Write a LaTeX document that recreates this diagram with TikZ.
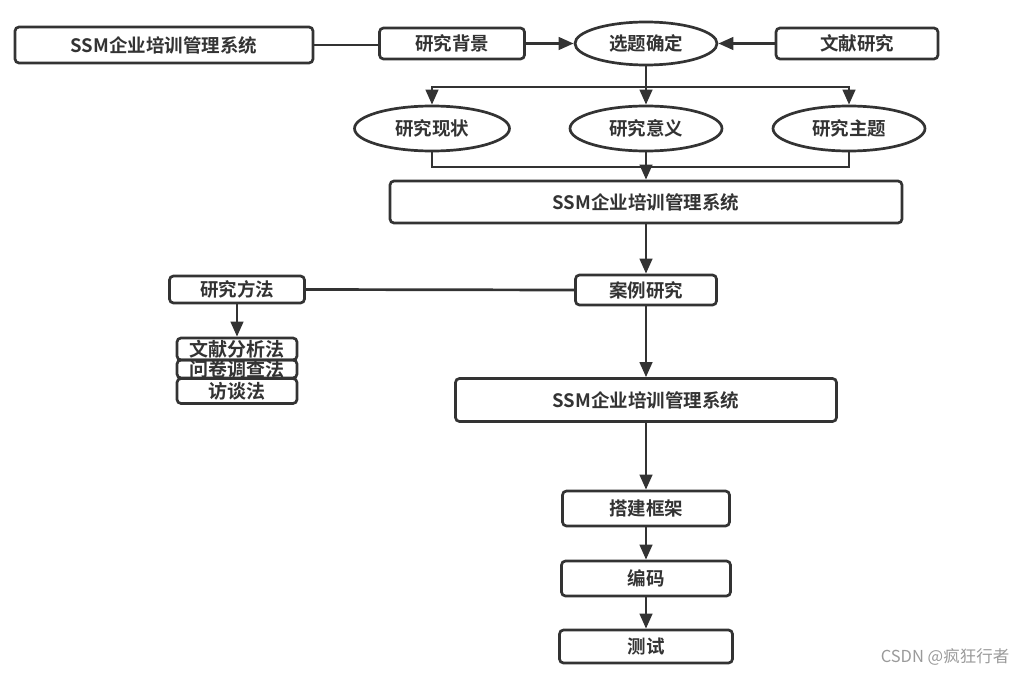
\documentclass[tikz,border=0pt]{standalone}
\usepackage{fontspec}
\setmainfont{Noto Sans CJK SC}[BoldFont={Noto Sans CJK SC Bold}]
\usetikzlibrary{shapes.geometric,arrows.meta}
\definecolor{ink}{HTML}{333333}
\definecolor{wm}{HTML}{9A9A9A}
\begin{document}
\begin{tikzpicture}[x=1pt,y=-1pt,
  every node/.style={font=\fontsize{18.5}{20}\selectfont\bfseries, text=ink},
  box/.style={draw=ink, line width=2.7pt, rounded corners=4pt, inner sep=0pt},
  ell/.style={ellipse, draw=ink, line width=2.7pt, inner sep=0pt},
  ln/.style={draw=ink, line width=2.7pt},
  arr/.style={ln, -{Triangle[length=15pt,width=12.5pt]}},
  stk/.style={box, font=\fontsize{19}{19}\selectfont\bfseries}
]
\useasboundingbox (0,0) rectangle (1029,677);
% top row
\node[box, minimum width=298pt, minimum height=36pt] (s1) at (164,45) {SSM企业培训管理系统};
\node[box, minimum width=145pt, minimum height=31pt] (bg) at (452,43.5) {研究背景};
\node[ell, minimum width=142pt, minimum height=43pt] (xt) at (646,43.5) {选题确定};
\node[box, minimum width=162pt, minimum height=31pt] (wx) at (857,43.5) {文献研究};
\draw[ln] (s1.east) -- (s1.east -| bg.west);
\draw[arr] (bg.east) -- (xt.west);
\draw[arr] (wx.west) -- (xt.east);
% ellipses row
\node[ell, minimum width=155pt, minimum height=45pt] (e1) at (432,128.5) {研究现状};
\node[ell, minimum width=152pt, minimum height=45pt] (e2) at (646,128.5) {研究意义};
\node[ell, minimum width=152pt, minimum height=45pt] (e3) at (849,128.5) {研究主题};
\coordinate (j1) at (646,87);
\draw[ln] (xt.south) -- (j1);
\draw[arr] (j1) -| (e1.north);
\draw[arr] (j1) -- (e2.north);
\draw[arr] (j1) -| (e3.north);
% second SSM
\node[box, minimum width=512pt, minimum height=42pt] (s2) at (646,202) {SSM企业培训管理系统};
\coordinate (j2) at (646,167);
\draw[ln] (e1.south) |- (j2);
\draw[ln] (e3.south) |- (j2);
\draw[arr] (e2.south) -- (s2.north);
% case study row
\node[box, minimum width=141pt, minimum height=30pt] (al) at (646,290) {案例研究};
\node[box, minimum width=135pt, minimum height=27pt] (ff) at (237,289.5) {研究方法};
\draw[arr] (s2.south) -- (al.north);
\draw[ln] (ff.east) -- (al.west);
% methods stack
\node[stk, minimum width=120pt, minimum height=22pt] (m1) at (237,349) {文献分析法};
\node[stk, minimum width=120pt, minimum height=18pt] (m2) at (237,369) {问卷调查法};
\node[stk, minimum width=120pt, minimum height=25pt] (m3) at (237,391) {访谈法};
\draw[arr] (ff.south) -- (m1.north);
% third SSM and chain
\node[box, minimum width=381pt, minimum height=43pt] (s3) at (646,400) {SSM企业培训管理系统};
\draw[arr] (al.south) -- (s3.north);
\node[box, minimum width=167pt, minimum height=35pt] (dj) at (646,508.5) {搭建框架};
\node[box, minimum width=169pt, minimum height=35pt] (bm) at (646,578.5) {编码};
\node[box, minimum width=173pt, minimum height=33pt] (cs) at (646,646.5) {测试};
\draw[arr] (s3.south) -- (dj.north);
\draw[arr] (dj.south) -- (bm.north);
\draw[arr] (bm.south) -- (cs.north);
% watermark
\node[font=\fontsize{16.5}{17}\selectfont, text=wm] (w) at (945,657) {CSDN @疯狂行者};
\end{tikzpicture}
\end{document}
